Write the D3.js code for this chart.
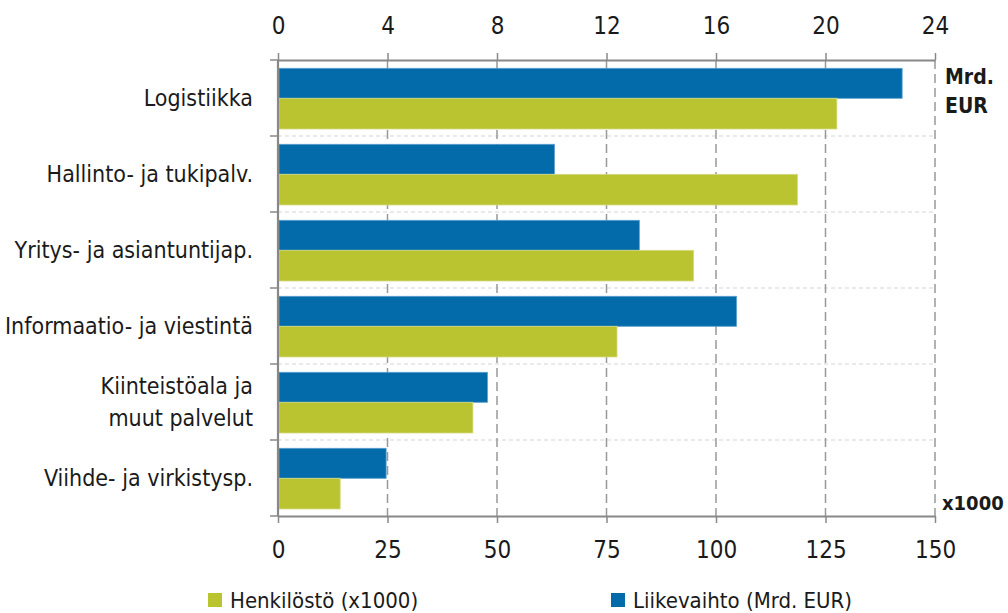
<!DOCTYPE html>
<html><head><meta charset="utf-8">
<script src="https://cdn.jsdelivr.net/npm/d3@7"></script>
<style>
body{margin:0;background:#fff;}
text{font-family:"DejaVu Sans Condensed","Liberation Sans Narrow",sans-serif;fill:#1a1a1a;}
</style></head><body>
<svg id="c" width="1008" height="613"></svg>
<script>
const categories = [["Logistiikka"],["Hallinto- ja tukipalv."],["Yritys- ja asiantuntijap."],["Informaatio- ja viestintä"],["Kiinteistöala ja","muut palvelut"],["Viihde- ja virkistysp."]];
const liikevaihto = [22.8, 10.1, 13.2, 16.75, 7.65, 3.95];
const henkilosto = [127.6, 118.6, 94.9, 77.4, 44.5, 14.2];
const topTicks = [0,4,8,12,16,20,24];
const bottomTicks = [0,25,50,75,100,125,150];

const svg = d3.select("#c");
const L=278, R=935, T=60, B=516;
const xTop = d3.scaleLinear().domain([0,24]).range([L,R]);
const xBot = d3.scaleLinear().domain([0,150]).range([L,R]);
const y = d3.scaleBand().domain(d3.range(categories.length)).range([T,B]).paddingInner(0).paddingOuter(0);
const blue="#046BAA", green="#B9C430";
const fs=23;

// horizontal separators
svg.append("g").selectAll("line").data(d3.range(1,categories.length)).join("line")
  .attr("x1",L).attr("x2",R).attr("y1",i=>y(i)).attr("y2",i=>y(i))
  .attr("stroke","#d6d6d6").attr("stroke-width",1.2).attr("stroke-dasharray","4,3");
// vertical gridlines
svg.append("g").selectAll("line").data(topTicks.slice(1)).join("line")
  .attr("x1",d=>xTop(d)).attr("x2",d=>xTop(d)).attr("y1",T).attr("y2",B)
  .attr("stroke","#999").attr("stroke-width",1.5).attr("stroke-dasharray","9,5");

// bars
const bh = 30, off = 8.3;
svg.append("g").selectAll("rect").data(liikevaihto).join("rect")
  .attr("x",L+1).attr("y",(d,i)=>y(i)+off).attr("height",bh)
  .attr("width",d=>xTop(d)-L-1).attr("fill",blue).attr("stroke","#5b9fce").attr("stroke-width",0.8);
svg.append("g").selectAll("rect").data(henkilosto).join("rect")
  .attr("x",L+1).attr("y",(d,i)=>y(i)+off+bh).attr("height",bh+0.7)
  .attr("width",d=>xBot(d)-L-1).attr("fill",green).attr("stroke","#d5db85").attr("stroke-width",0.8);

// axes
const ta = svg.append("g").attr("transform",`translate(0,${T})`)
  .call(d3.axisTop(xTop).tickValues(topTicks).tickSize(7).tickPadding(19).tickSizeOuter(0));
const ba = svg.append("g").attr("transform",`translate(0,${B})`)
  .call(d3.axisBottom(xBot).tickValues(bottomTicks).tickSize(7).tickPadding(18).tickSizeOuter(0));
[ta,ba].forEach(a=>{
  a.select(".domain").attr("stroke","#888").attr("stroke-width",2.2);
  a.selectAll(".tick line").attr("stroke","#888").attr("stroke-width",1.5);
  a.selectAll(".tick text").attr("font-size",24).attr("fill","#1a1a1a")
   .style("font-family",'"DejaVu Sans Condensed",sans-serif');
});
svg.append("line").attr("x1",L).attr("x2",L).attr("y1",T).attr("y2",B).attr("stroke","#888").attr("stroke-width",2.2);
svg.append("g").selectAll("line").data(d3.range(0,categories.length+1)).join("line")
  .attr("x1",L-8).attr("x2",L).attr("y1",i=>i<categories.length?y(i):B).attr("y2",i=>i<categories.length?y(i):B)
  .attr("stroke","#888").attr("stroke-width",1.5);

// category labels
const lab = svg.append("g").selectAll("text").data(categories).join("text")
  .attr("text-anchor","end").attr("font-size",fs)
  .attr("x",253).attr("y",(d,i)=>y(i)+y.bandwidth()/2);
lab.each(function(d){
  const t=d3.select(this); const n=d.length;
  d.forEach((s,k)=>t.append("tspan").attr("x",253).attr("dy",k===0?((-(n-1)/2)*32+8)+"px":"32px").text(s));
});

// unit labels
svg.append("text").attr("x",945).attr("y",84).attr("font-size",21).attr("font-weight","bold").text("Mrd.");
svg.append("text").attr("x",945).attr("y",113).attr("font-size",21).attr("font-weight","bold").text("EUR");
svg.append("text").attr("x",942).attr("y",510).attr("font-size",20).attr("font-weight","bold").text("x1000");

// legend
const leg=[{c:green,t:"Henkilöstö (x1000)",x:208},{c:blue,t:"Liikevaihto (Mrd. EUR)",x:611}];
const lg=svg.append("g").selectAll("g").data(leg).join("g");
lg.append("rect").attr("x",d=>d.x).attr("y",593).attr("width",14).attr("height",14).attr("fill",d=>d.c);
lg.append("text").attr("x",d=>d.x+22).attr("y",608).attr("font-size",22).text(d=>d.t);
</script></body></html>
